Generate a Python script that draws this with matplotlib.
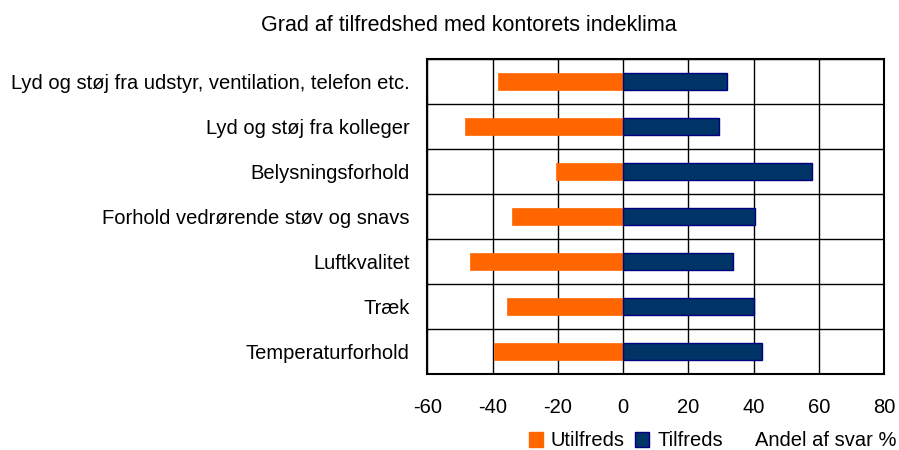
import matplotlib.pyplot as plt
from matplotlib.patches import Patch
import numpy as np

plt.rcParams['font.family'] = ['Liberation Sans', 'DejaVu Sans']

categories = [
    "Lyd og støj fra udstyr, ventilation, telefon etc.",
    "Lyd og støj fra kolleger",
    "Belysningsforhold",
    "Forhold vedrørende støv og snavs",
    "Luftkvalitet",
    "Træk",
    "Temperaturforhold",
]
utilfreds = [-38.4, -48.6, -20.7, -34.0, -47.0, -35.7, -39.7]
tilfreds = [31.9, 29.4, 57.8, 40.5, 33.8, 40.1, 42.4]
xticks = [-60, -40, -20, 0, 20, 40, 60, 80]

orange = '#FF6600'
blue = '#003366'
fs = 14.5

fig = plt.figure(figsize=(8.99, 4.5), dpi=100)
ax = fig.add_axes([0.4755, 0.169, 0.508, 0.7])

y = np.arange(len(categories))
ax.barh(y, utilfreds, height=0.37, color=orange, edgecolor=orange, linewidth=0.5, zorder=3)
ax.barh(y, tilfreds, height=0.37, color=blue, edgecolor='#000080', linewidth=1, zorder=3)

ax.set_xlim(-60, 80)
ax.set_ylim(len(categories) - 0.5, -0.5)
ax.set_xticks(xticks)
ax.set_xticklabels([str(v) for v in xticks], fontsize=fs)
ax.set_yticks(y)
ax.set_yticklabels(categories, fontsize=fs)
ax.set_yticks(np.arange(len(categories) + 1) - 0.5, minor=True)
ax.tick_params(axis='x', which='both', length=0, pad=17)
ax.tick_params(axis='y', which='both', length=0, pad=13)
ax.grid(True, axis='x', color='black', linewidth=1, zorder=1)
ax.grid(True, axis='y', which='minor', color='black', linewidth=1, zorder=1)
ax.grid(False, axis='y', which='major')
for s in ax.spines.values():
    s.set_linewidth(1.5)
    s.set_color('black')

fig.text(0.522, 0.944, "Grad af tilfredshed med kontorets indeklima",
         ha='center', va='center', fontsize=15.5)

handles = [Patch(facecolor=orange, edgecolor=orange, label='Utilfreds'),
           Patch(facecolor=blue, edgecolor='#000080', label='Tilfreds')]
fig.legend(handles=handles, loc='center', bbox_to_anchor=(0.696, 0.02),
           ncol=2, frameon=False, fontsize=fs, handlelength=0.7, handleheight=0.7,
           handletextpad=0.4, columnspacing=0.5, borderpad=0)
fig.text(0.9975, 0.02, "Andel af svar %", ha='right', va='center', fontsize=fs)

fig.savefig('out.png', dpi=100)
